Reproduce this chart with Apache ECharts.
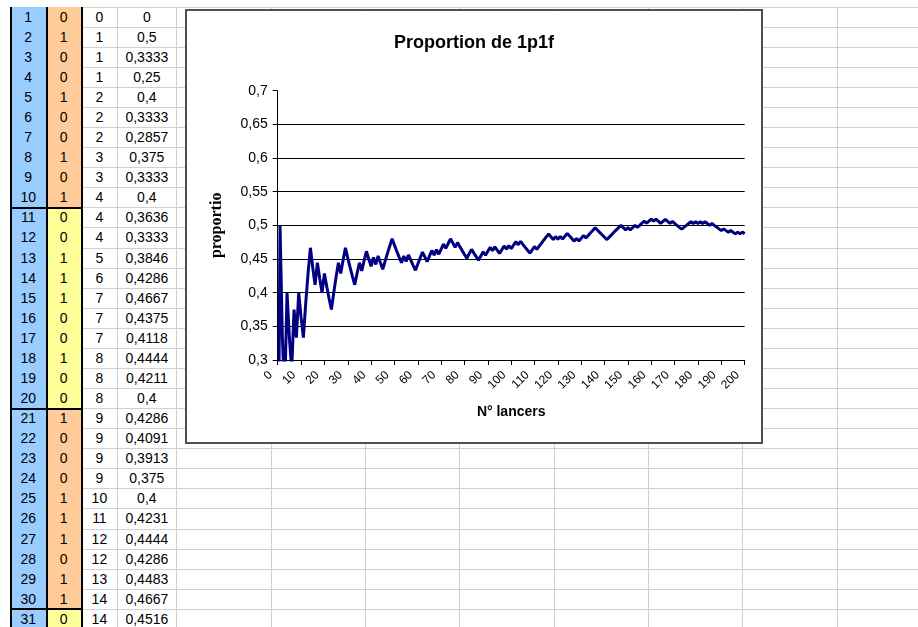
<!DOCTYPE html>
<html><head><meta charset="utf-8">
<script src="https://cdn.jsdelivr.net/npm/echarts@6/dist/echarts.min.js"></script>
<style>
html,body{margin:0;padding:0;background:#fff;}
#sheet{position:relative;width:918px;height:627px;overflow:hidden;font-family:"Liberation Sans",Arial,sans-serif;font-size:14px;background:#fff;}
.hl,.vl,.fill,.bd{position:absolute;}
.hl{height:1px;background:#d0d0d0;}
.vl{width:1px;background:#d0d0d0;}
.bd{background:#000;}
.cell{position:absolute;text-align:center;color:#000;white-space:nowrap;}
#chartBox{position:absolute;left:185px;top:9px;width:578px;height:435px;box-sizing:border-box;border:2px solid #505050;background:#fff;}
#chart{width:574px;height:431px;}
</style></head>
<body>
<div id="sheet"><div id="chartBox"><div id="chart"></div></div></div>
<script>
// ---- spreadsheet data ----
const rowNumbers = [1,2,3,4,5,6,7,8,9,10,11,12,13,14,15,16,17,18,19,20,21,22,23,24,25,26,27,28,29,30,31];
const tosses = [0,1,0,0,1,0,0,1,0,1, 0,0,1,1,1,0,0,1,0,0, 1,0,0,0,1,1,1,0,1,1, 0];
const cumulCounts = [0,1,1,1,2,2,2,3,3,4, 4,4,5,6,7,7,7,8,8,8, 9,9,9,9,10,11,12,12,13,14, 14];
const proportionText = ["0","0,5","0,3333","0,25","0,4","0,3333","0,2857","0,375","0,3333","0,4",
  "0,3636","0,3333","0,3846","0,4286","0,4667","0,4375","0,4118","0,4444","0,4211","0,4",
  "0,4286","0,4091","0,3913","0,375","0,4","0,4231","0,4444","0,4286","0,4483","0,4667","0,4516"];

// ---- chart data ----
const chartTitle = "Proportion de 1p1f";
const xAxisName = "N° lancers";
const yAxisName = "proportio";
const proportion = [
0,0.5,0.3333,0.25,0.4,0.3333,0.2857,0.375,0.3333,0.4,0.3636,0.3333,0.3846,0.4286,0.4667,0.4375,0.4118,0.4444,0.4211,0.4,0.4286,0.4091,0.3913,0.375,0.4,0.4231,0.4444,0.4286,0.4483,0.4667,0.4516,
0.4375,0.4242,0.4118,0.4286,0.4444,0.4324,0.4474,0.4615,0.45,0.439,
0.4524,0.4419,0.4545,0.4444,0.4348,0.4468,0.4583,0.4694,0.48,0.4706,
0.4615,0.4528,0.4444,0.4545,0.4464,0.4561,0.4483,0.4407,0.4333,0.4426,
0.4516,0.4603,0.4531,0.4462,0.4545,0.4627,0.4559,0.4638,0.4571,0.4648,
0.4722,0.4658,0.473,0.48,0.4737,0.4675,0.4744,0.4684,0.4625,0.4568,
0.4512,0.4578,0.4643,0.4588,0.4535,0.4483,0.4545,0.4607,0.4556,0.4615,
0.4674,0.4624,0.4681,0.4632,0.4583,0.4639,0.4694,0.4646,0.47,0.4653,
0.4706,0.4757,0.4712,0.4762,0.4717,0.4673,0.463,0.4587,0.4636,0.4685,
0.4643,0.469,0.4737,0.4783,0.4828,0.4872,0.4831,0.479,0.4833,0.4793,
0.4836,0.4797,0.4839,0.488,0.4841,0.4803,0.4766,0.4806,0.4769,0.4809,
0.4848,0.4812,0.4851,0.4889,0.4926,0.4964,0.4928,0.4892,0.4857,0.4823,
0.4789,0.4825,0.4861,0.4897,0.4932,0.4966,0.5,0.4966,0.4933,0.4967,
0.4934,0.4967,0.5,0.4968,0.5,0.5032,0.5063,0.5031,0.5063,0.5093,
0.5062,0.5092,0.5061,0.503,0.506,0.509,0.506,0.503,0.5059,0.5029,
0.5,0.4971,0.4943,0.4971,0.5,0.5028,0.5056,0.5028,0.5056,0.5028,
0.5055,0.5027,0.5054,0.5027,0.5,0.5027,0.5,0.4974,0.4947,0.4921,
0.4948,0.4922,0.4897,0.4923,0.4898,0.4873,0.4899,0.4874,0.49,0.4876
];

// ---- build spreadsheet ----
const sheet = document.getElementById('sheet');
const box = document.getElementById('chartBox');
const ROW0 = 6.7, RH = 20.07;
const colX = [10.5, 46, 81.5, 117.3, 176.4, 270.7, 365, 459.3, 553.6, 647.9, 742.2, 836.5];
function add(cls, l, t, w, h, bg) {
  const d = document.createElement('div');
  d.className = cls;
  d.style.left = l + 'px'; d.style.top = t + 'px';
  d.style.width = w + 'px'; d.style.height = h + 'px';
  if (bg) d.style.background = bg;
  sheet.insertBefore(d, box);
  return d;
}
for (let k = 0; k <= 31; k++) add('hl', 10, ROW0 + RH * k, 908, 1);
colX.forEach(x => add('vl', x, ROW0, 1, 627));
const bFill = r => (Math.floor(r / 10) % 2 === 0) ? '#FFCC99' : '#FFFF99';
for (let r = 0; r < rowNumbers.length; r++) {
  const top = ROW0 + RH * r;
  add('fill', colX[0], top, colX[1] - colX[0], RH + 1, '#99CCFF');
  add('fill', colX[1], top, colX[2] - colX[1], RH + 1, bFill(r));
}
[colX[0], colX[1], colX[2]].forEach(x => add('bd', x - 0.5, ROW0, 2, 627));
[10, 20, 30].forEach(k => add('bd', colX[0] - 0.5, ROW0 + RH * k - 0.5, colX[2] - colX[0] + 2, 2));
function text(col, r, s) {
  const d = add('cell', colX[col], ROW0 + RH * r, colX[col + 1] - colX[col], RH);
  d.style.lineHeight = RH + 'px';
  d.textContent = s;
}
for (let r = 0; r < rowNumbers.length; r++) {
  text(0, r, String(rowNumbers[r]));
  text(1, r, String(tosses[r]));
  text(2, r, String(cumulCounts[r]));
  text(3, r, proportionText[r]);
}

// ---- chart ----
const chart = echarts.init(document.getElementById('chart'), null, {renderer: 'canvas'});
const fmt = v => String(parseFloat(Number(v).toFixed(2))).replace('.', ',');
chart.setOption({
  animation: false,
  backgroundColor: '#fff',
  title: {text: chartTitle, left: 'center', top: 18,
    textStyle: {fontFamily: 'Liberation Sans', fontSize: 18, fontWeight: 'bold', color: '#000'}},
  grid: {left: 90.7, top: 79.7, width: 467, height: 269.3},
  xAxis: {type: 'value', min: 0, max: 200, interval: 10,
    name: xAxisName, nameLocation: 'middle', nameGap: 45,
    nameTextStyle: {fontFamily: 'Liberation Sans', fontSize: 14, fontWeight: 'bold', color: '#000'},
    axisLine: {lineStyle: {color: '#000', width: 1}},
    axisTick: {show: true, length: 5, lineStyle: {color: '#000'}},
    axisLabel: {rotate: 45, fontSize: 12, color: '#000', margin: 6, padding: [0, 10, 0, 0], fontFamily: 'Liberation Sans'},
    splitLine: {show: false}},
  yAxis: {type: 'value', min: 0.3, max: 0.7, interval: 0.05,
    name: yAxisName, nameLocation: 'middle', nameRotate: 90, nameGap: 53,
    nameTextStyle: {fontFamily: 'Liberation Serif', fontSize: 16, fontWeight: 'bold', color: '#000'},
    axisLine: {show: true, lineStyle: {color: '#000', width: 1}},
    axisTick: {show: true, length: 5, lineStyle: {color: '#000'}},
    axisLabel: {fontSize: 14, color: '#000', margin: 10, fontFamily: 'Liberation Sans', formatter: fmt},
    splitLine: {show: true, showMaxLine: false, showMinLine: false, lineStyle: {color: '#000', width: 1}}},
  series: [{type: 'line', data: proportion.map((v, i) => [i, v]), symbol: 'none', showSymbol: false,
    clip: true, lineStyle: {color: '#000080', width: 3}, itemStyle: {color: '#000080'}}]
});
</script>
</body></html>
